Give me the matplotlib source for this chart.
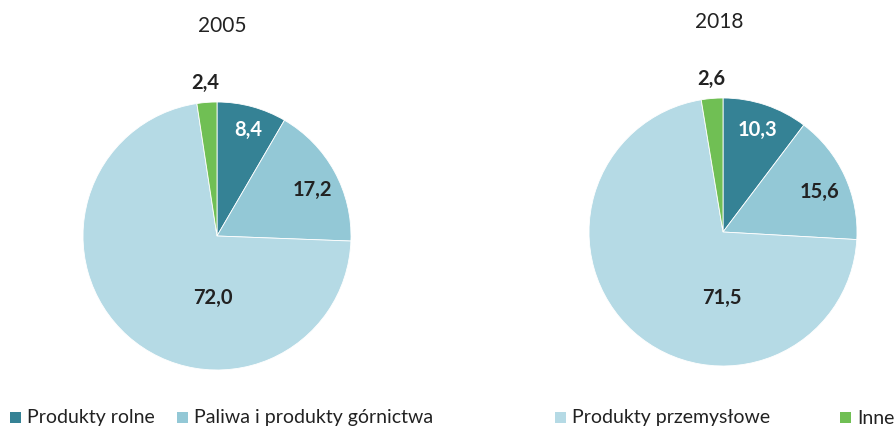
import matplotlib.pyplot as plt
from matplotlib.patches import Rectangle

plt.rcParams['font.family'] = ['Lato', 'DejaVu Sans']

years = ["2005", "2018"]
categories = ["Produkty rolne", "Paliwa i produkty górnictwa",
              "Produkty przemysłowe", "Inne"]
shares_2005 = [8.4, 17.2, 72.0, 2.4]
shares_2018 = [10.3, 15.6, 71.5, 2.6]

colors = ["#358295", "#93c8d6", "#b5dae5", "#70bf54"]
label_colors = ["white", "#222222", "#222222", "#222222"]

W, H = 896, 429
fig = plt.figure(figsize=(W / 100, H / 100), dpi=100)

# pie centres in pixels, radius in pixels
R = 134
centres = [(217, 236), (723, 232)]
title_pos = [(222, 26), (719, 22)]
# label positions relative to the centre, in units of radius
label_xy = [
    [(0.23, 0.79), (0.71, 0.34), (-0.03, -0.46), (-0.09, 1.14)],
    [(0.26, 0.76), (0.72, 0.30), (-0.01, -0.49), (-0.09, 1.14)],
]

for k, (year, vals) in enumerate(zip(years, [shares_2005, shares_2018])):
    cx, cy = centres[k]
    ax = fig.add_axes([(cx - R) / W, (H - cy - R) / H, 2 * R / W, 2 * R / H])
    ax.pie(vals, colors=colors, startangle=90, counterclock=False,
           radius=1.0, wedgeprops=dict(edgecolor="white", linewidth=0.6))
    ax.set_xlim(-1, 1)
    ax.set_ylim(-1, 1)
    ax.set_aspect("equal")
    ax.axis("off")
    for v, (lx, ly), c in zip(vals, label_xy[k], label_colors):
        ax.text(lx, ly, f"{v:.1f}".replace(".", ","), ha="center", va="center",
                fontsize=14.5, fontweight="bold", color=c)
    tx, ty = title_pos[k]
    fig.text(tx / W, 1 - ty / H, year, ha="center", va="center",
             fontsize=15, color="#222222")

# legend row along the bottom
legend_x = [10, 177, 555, 840]
ly = 418
for x, name, c in zip(legend_x, categories, colors):
    fig.patches.append(Rectangle((x / W, 1 - (ly + 5) / H), 11 / W, 11 / H,
                                 transform=fig.transFigure, facecolor=c,
                                 edgecolor="none"))
    fig.text((x + 17) / W, 1 - ly / H, name, ha="left", va="center",
             fontsize=14, color="#222222")

fig.savefig("out.png", dpi=100)
